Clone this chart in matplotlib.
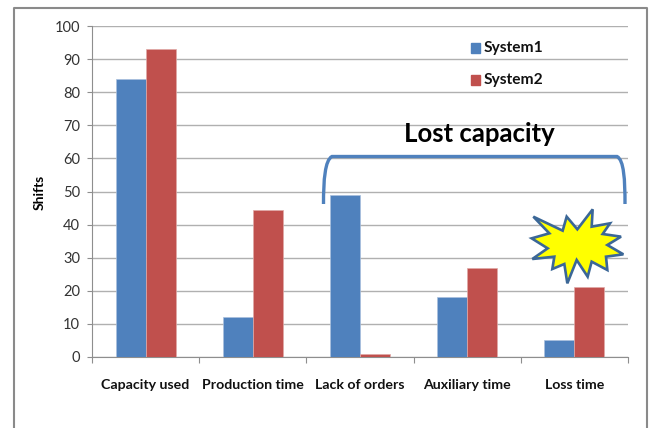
import numpy as np
import matplotlib
matplotlib.use("Agg")
import matplotlib.pyplot as plt
from matplotlib.patches import PathPatch, Polygon
from matplotlib.path import Path
from matplotlib.transforms import Affine2D

categories = ["Capacity used", "Production time", "Lack of orders", "Auxiliary time", "Loss time"]
system1 = [84, 12, 49, 18, 5]
system2 = [93, 44.3, 1, 27, 21]
y_ticks = list(range(0, 101, 10))

W, H = 650, 428
BLUE = "#4f81bd"
RED = "#c0504d"
FONT = ["Lato", "DejaVu Sans"]

fig = plt.figure(figsize=(W / 100, H / 100), dpi=100, facecolor="white")
ax = fig.add_axes([92 / W, 1 - 357 / H, 536 / W, 331 / H])

# pixel coordinates of the picture, y going down
px = Affine2D().scale(1, -1).translate(0, H)

x = np.arange(len(categories))
width = 0.28
ax.bar(x - width / 2, system1, width, color=BLUE, edgecolor="#a9c0dd", linewidth=0.5, zorder=3)
ax.bar(x + width / 2, system2, width, color=RED, edgecolor="#e0a9a7", linewidth=0.5, zorder=3)

ax.set_xlim(-0.5, 4.5)
ax.set_ylim(0, 100)
ax.set_yticks(y_ticks)
ax.set_xticks(np.arange(-0.5, 5, 1))
ax.set_xticklabels([])
ax.tick_params(axis="x", length=4.3, width=0.8, color="#8e8e8e", direction="out")
ax.tick_params(axis="y", length=3.6, width=0.8, color="#8e8e8e", direction="out",
               labelsize=10.5, labelcolor="#333333", pad=5)
for lab in ax.get_yticklabels():
    lab.set_family(FONT)
ax.grid(axis="y", color="#b0b0b0", linewidth=1, zorder=0)
ax.set_axisbelow(True)
for side in ["top", "right"]:
    ax.spines[side].set_visible(False)
for side in ["left", "bottom"]:
    ax.spines[side].set_color("#8e8e8e")
    ax.spines[side].set_linewidth(0.8)

for i, name in enumerate(categories):
    ax.annotate(name, (i, 0), xytext=(0, -20.5), textcoords="offset points", ha="center", va="center",
                fontsize=10.2, fontweight="bold", family=FONT, color="#111111")

ax.set_ylabel("Shifts", fontsize=10, fontweight="bold", family=FONT)
ax.yaxis.set_label_coords((46 - 92) / 536, (357 - 192) / 331)

# legend drawn by hand, the entries are stacked wide apart in the original
for y_pos, color, name in [(48, BLUE, "System1"), (80, RED, "System2")]:
    fig.add_artist(plt.Rectangle((471, y_pos - 5), 9, 10, transform=px, color=color))
    fig.text(484 / W, 1 - y_pos / H, name, fontsize=11.2, fontweight="bold", family=FONT,
             va="center", ha="left", color="#111111")

fig.text(479 / W, 1 - 134 / H, "Lost capacity", fontsize=18.5, fontweight="bold", family=FONT,
         va="center", ha="center", color="black")

# brace over the lost capacity groups
brace = Path(
    [(323.5, 204), (323.5, 180), (325, 160), (332, 156.5),
     (617, 156.5), (624, 160), (625, 180), (625, 204)],
    [Path.MOVETO, Path.CURVE4, Path.CURVE4, Path.CURVE4,
     Path.LINETO, Path.CURVE4, Path.CURVE4, Path.CURVE4],
)
fig.add_artist(PathPatch(brace, transform=px, fill=False, edgecolor=BLUE, linewidth=2.4,
                         capstyle="butt"))

star = [(40, 80), (128, 122), (140, 80), (172, 118), (218, 58), (215, 110), (270, 100), (248, 132),
        (303, 140), (262, 165), (310, 193), (258, 200), (262, 240), (215, 215), (203, 260), (170, 210),
        (142, 280), (133, 222), (97, 237), (103, 200), (37, 207), (83, 175), (35, 145), (88, 130)]
star_px = [(520 + a / 3, 190 + b / 3) for a, b in star]
fig.add_artist(Polygon(star_px, closed=True, transform=px, facecolor="#ffff00", edgecolor="#3b6797",
                       linewidth=1.9, joinstyle="miter"))

# outer chart frame, open at the bottom
fig.add_artist(plt.Line2D([13.5, 13.5, 647, 647], [428, 8, 8, 428], transform=px, color="#8a8a8a",
                          linewidth=1.5))

fig.savefig("out.png", dpi=100)
